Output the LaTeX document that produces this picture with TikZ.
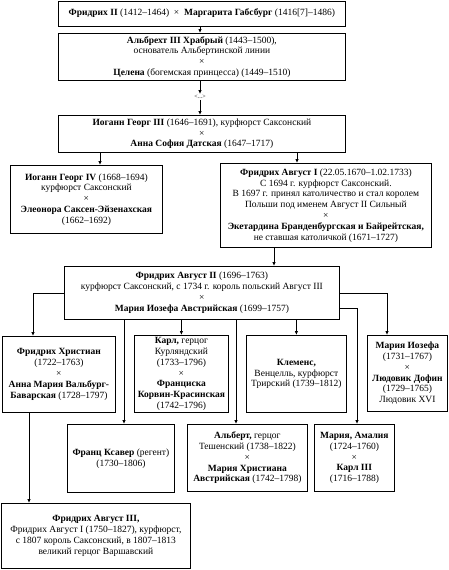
\documentclass[tikz,border=0pt]{standalone}
\usepackage{fontspec}
\setmainfont{Liberation Serif}
\usetikzlibrary{arrows.meta,calc}
\begin{document}
\begin{tikzpicture}[x=1pt,y=-1pt,
  box/.style={draw, line width=0.8pt, align=center, inner sep=0pt, anchor=north west,
    font=\fontsize{9.5}{10.8}\selectfont},
  arr/.style={line width=0.8pt, -{Latex[length=4pt,width=3.5pt]}},
  ln/.style={line width=0.8pt}]
\useasboundingbox (0,0) rectangle (449,570);
\node[box, minimum width=287, minimum height=25] (b1) at (58,0.5)
  {\textbf{Фридрих II} (1412–1464)~~×~~\textbf{Маргарита Габсбург} (1416[7]–1486)};
\node[box, minimum width=287, minimum height=47] (b2) at (58,33)
  {\textbf{Альбрехт III Храбрый} (1443–1500),\\основатель Альбертинской линии\\×\\\textbf{Целена} (богемская принцесса) (1449–1510)};
\node[font=\fontsize{6}{7}\selectfont, inner sep=1pt] (dots) at (200,97) {<...>};
\node[box, minimum width=287, minimum height=37] (b3) at (58,115)
  {\textbf{Иоганн Георг III} (1646–1691), курфюрст Саксонский\\×\\\textbf{Анна София Датская} (1647–1717)};
\node[box, minimum width=152, minimum height=68] (b4) at (10,165)
  {\textbf{Иоганн Георг IV} (1668–1694)\\курфюрст Саксонский\\×\\\textbf{Элеонора Саксен-Эйзенахская}\\(1662–1692)};
\node[box, minimum width=211, minimum height=84] (b5) at (220,163)
  {\textbf{Фридрих Август I} (22.05.1670–1.02.1733)\\С 1694 г. курфюрст Саксонский.\\В 1697 г. принял католичество и стал королем\\Польши под именем Август II Сильный\\×\\\textbf{Экетардина Бранденбургская и Байрейтская,}\\не ставшая католичкой (1671–1727)};
\node[box, minimum width=275, minimum height=53] (b6) at (64,266)
  {\textbf{Фридрих Август II} (1696–1763)\\курфюрст Саксонский, с 1734 г. король польский Август III\\×\\\textbf{Мария Иозефа Австрийская} (1699–1757)};
\node[box, minimum width=113, minimum height=76] (b7) at (2,336)
  {\textbf{Фридрих Христиан}\\(1722–1763)\\×\\\textbf{Анна Мария Вальбург-}\\\textbf{Баварская} (1728–1797)};
\node[box, minimum width=94, minimum height=77] (b8) at (134,335)
  {\textbf{Карл,} герцог\\Курляндский\\(1733–1796)\\×\\\textbf{Франциска}\\\textbf{Корвин-Красинская}\\(1742–1796)};
\node[box, minimum width=100, minimum height=77] (b9) at (246,335)
  {\textbf{Клеменс,}\\Венцелль, курфюрст\\Трирский (1739–1812)};
\node[box, minimum width=80, minimum height=76] (b10) at (367,335)
  {\textbf{Мария Иозефа}\\(1731–1767)\\×\\\textbf{Людовик Дофин}\\(1729–1765)\\Людовик XVI};
\node[box, minimum width=107, minimum height=68] (b11) at (67,424)
  {\textbf{Франц Ксавер} (регент)\\(1730–1806)};
\node[box, minimum width=120, minimum height=67] (b12) at (187,424)
  {\textbf{Альберт,} герцог\\Тешенский (1738–1822)\\×\\\textbf{Мария Христиана}\\\textbf{Австрийская} (1742–1798)};
\node[box, minimum width=80, minimum height=67] (b13) at (314,424)
  {\textbf{Мария, Амалия}\\(1724–1760)\\×\\\textbf{Карл III}\\(1716–1788)};
\node[box, minimum width=189, minimum height=65] (b14) at (1,503)
  {\textbf{Фридрих Август III,}\\Фридрих Август I (1750–1827), курфюрст,\\с 1807 король Саксонский, в 1807–1813\\великий герцог Варшавский};
% helper x positions
\coordinate (x200) at (200,0);
\coordinate (x100) at (100,0);
\coordinate (x297) at (297,0);
\coordinate (x274) at (274,0);
\coordinate (x33) at (33,0);
\coordinate (x124) at (124,0);
\coordinate (x236) at (236,0);
\coordinate (x357) at (357,0);
\coordinate (x387) at (387,0);
\coordinate (x29) at (29,0);
\coordinate (y308) at (0,308);
% connectors
\draw[arr] (b1.south -| x200) -- (b2.north -| x200);
\draw[arr] (b2.south -| x200) -- (dots.north);
\draw[arr] (dots.south) -- (b3.north -| x200);
\draw[arr] (b3.south -| x100) -- (b4.north -| x100);
\draw[arr] (b3.south -| x297) -- (b5.north -| x297);
\draw[arr] (b5.south -| x274) -- (b6.north -| x274);
\draw[arr] (b6.west) -| (b7.north -| x33);
\draw[arr] (b6.south -| x124) -- (b11.north -| x124);
\draw[arr] (b6.south -| b8.north) -- (b8.north);
\draw[arr] (b6.south -| x236) -- (b12.north -| x236);
\draw[arr] (b6.south -| b9.north) -- (b9.north);
\draw[arr] (b6.east |- y308) -| (b13.north -| x357);
\draw[arr] (b6.east) -| (b10.north -| x387);
\draw[arr] (b7.south -| x29) -- (b14.north -| x29);
\end{tikzpicture}
\end{document}
